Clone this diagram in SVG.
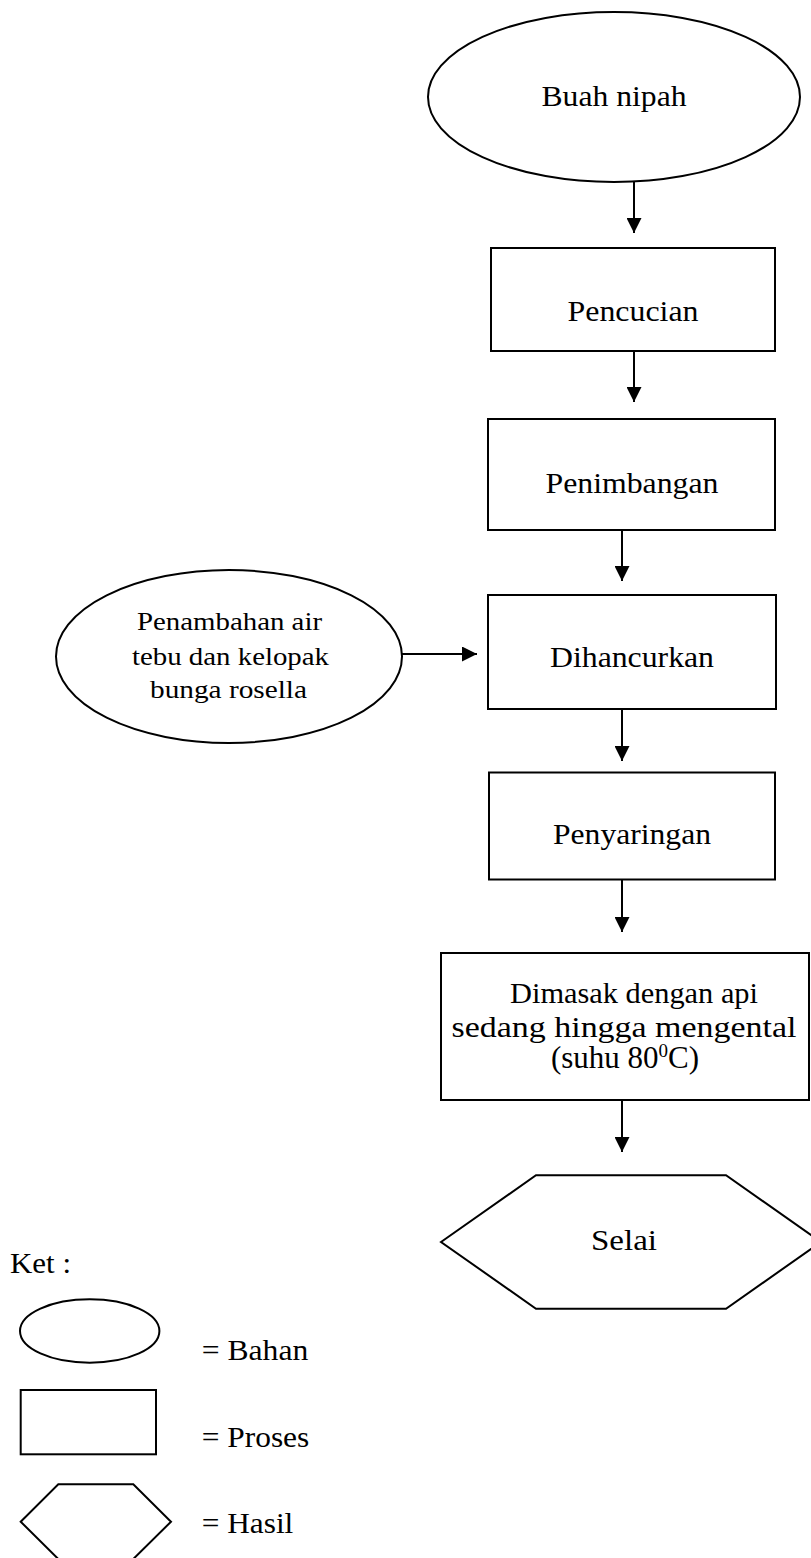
<svg xmlns="http://www.w3.org/2000/svg" width="811" height="1558" viewBox="0 0 811 1558">
<defs>
<style>
.s{fill:#fff;stroke:#000;stroke-width:2}
.t{font-family:"Liberation Serif","Times New Roman",serif;font-size:30px;fill:#000;text-anchor:middle}
.ts{font-family:"Liberation Serif","Times New Roman",serif;font-size:26px;fill:#000;text-anchor:middle}
.tl{font-family:"Liberation Serif","Times New Roman",serif;font-size:30px;fill:#000}
.c{stroke:#000;stroke-width:2;fill:none}
</style>
<marker id="ah" viewBox="0 0 10 10" refX="10" refY="5" markerWidth="7.5" markerHeight="7.5" markerUnits="strokeWidth" orient="auto">
<path d="M0,0 L10,5 L0,10 Z" fill="#000"/>
</marker>
</defs>
<rect width="811" height="1558" fill="#fff"/>
<g id="connectors">
<line class="c" x1="634" y1="182" x2="634" y2="233" marker-end="url(#ah)"/>
<line class="c" x1="634" y1="351" x2="634" y2="402" marker-end="url(#ah)"/>
<line class="c" x1="622" y1="530" x2="622" y2="581" marker-end="url(#ah)"/>
<line class="c" x1="402" y1="654" x2="477" y2="654" marker-end="url(#ah)"/>
<line class="c" x1="622" y1="709" x2="622" y2="761" marker-end="url(#ah)"/>
<line class="c" x1="622" y1="879" x2="622" y2="932" marker-end="url(#ah)"/>
<line class="c" x1="622" y1="1100" x2="622" y2="1152" marker-end="url(#ah)"/>
</g>
<g id="buah-nipah">
<ellipse class="s" cx="614" cy="97" rx="186" ry="85"/>
<text class="t" x="614" y="106" textLength="145" lengthAdjust="spacingAndGlyphs">Buah nipah</text>
</g>
<g id="pencucian">
<rect class="s" x="491" y="248" width="284" height="103"/>
<text class="t" x="633" y="321" textLength="131" lengthAdjust="spacingAndGlyphs">Pencucian</text>
</g>
<g id="penimbangan">
<rect class="s" x="488" y="419" width="287" height="111"/>
<text class="t" x="632" y="493" textLength="173" lengthAdjust="spacingAndGlyphs">Penimbangan</text>
</g>
<g id="penambahan">
<ellipse class="s" cx="229" cy="656.5" rx="173" ry="86.5"/>
<text class="ts" x="229.5" y="630" textLength="185" lengthAdjust="spacingAndGlyphs">Penambahan air</text>
<text class="ts" x="230.5" y="665" textLength="197" lengthAdjust="spacingAndGlyphs">tebu dan kelopak</text>
<text class="ts" x="228.5" y="698" textLength="157" lengthAdjust="spacingAndGlyphs">bunga rosella</text>
</g>
<g id="dihancurkan">
<rect class="s" x="488" y="595" width="288" height="114"/>
<text class="t" x="632" y="667" textLength="164" lengthAdjust="spacingAndGlyphs">Dihancurkan</text>
</g>
<g id="penyaringan">
<rect class="s" x="489" y="772.5" width="286" height="107"/>
<text class="t" x="632" y="844" textLength="158" lengthAdjust="spacingAndGlyphs">Penyaringan</text>
</g>
<g id="dimasak">
<rect class="s" x="441" y="953" width="368" height="147"/>
<text class="t" x="634" y="1003" textLength="248" lengthAdjust="spacingAndGlyphs">Dimasak dengan api</text>
<text class="t" x="624" y="1037" textLength="345" lengthAdjust="spacingAndGlyphs">sedang hingga mengental</text>
<text class="t" x="625" y="1068" style="font-size:31px">(suhu 80<tspan style="font-size:19px" dy="-11">0</tspan><tspan dy="11">C)</tspan></text>
</g>
<g id="selai">
<polygon class="s" points="441,1242 536,1175.3 726,1175.3 821,1242 726,1308.7 536,1308.7"/>
<text class="t" x="624" y="1250" textLength="66" lengthAdjust="spacingAndGlyphs">Selai</text>
</g>
<g id="legend">
<text class="tl" x="10" y="1273" textLength="61" lengthAdjust="spacingAndGlyphs">Ket :</text>
<ellipse class="s" cx="89.7" cy="1331" rx="69.7" ry="31.7"/>
<text class="tl" x="201.7" y="1360" textLength="106.6" lengthAdjust="spacingAndGlyphs">= Bahan</text>
<rect class="s" x="20.7" y="1390" width="135.3" height="64.3"/>
<text class="tl" x="201.7" y="1447" textLength="107.6" lengthAdjust="spacingAndGlyphs">= Proses</text>
<polygon class="s" points="20.7,1521.7 58.3,1484.3 133.3,1484.3 171,1521.7 133.3,1559 58.3,1559"/>
<text class="tl" x="201.7" y="1533" textLength="91.6" lengthAdjust="spacingAndGlyphs">= Hasil</text>
</g>
</svg>
